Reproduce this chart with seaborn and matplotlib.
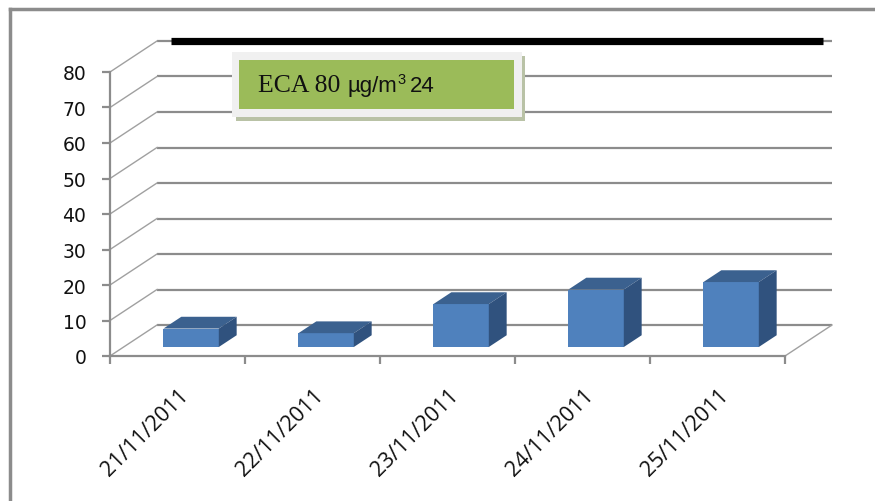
import numpy as np
import matplotlib
matplotlib.use('Agg')
import matplotlib.pyplot as plt
import seaborn as sns
from matplotlib.transforms import ScaledTranslation, IdentityTransform
from matplotlib.patches import Polygon, Rectangle
from matplotlib.lines import Line2D

# dane: PM10 dzienne (µg/m3) i norma ECA
dates = ['21/11/2011', '22/11/2011', '23/11/2011', '24/11/2011', '25/11/2011']
pm10 = [5.2, 3.9, 12.1, 16.2, 18.3]
eca_limit = 80
y_ticks = list(range(0, 81, 10))

W, H = 875, 502
fig = plt.figure(figsize=(W / 100, H / 100), dpi=100)
fig.patch.set_facecolor('white')
ax = fig.add_axes([110 / W, 1 - 357 / H, 675 / W, 284 / H])
ax.patch.set_visible(False)

grid_col = '#8c8c8c'
DX, DY = 47, 31      # glebokosc "3D" w pikselach
f0, f1 = 0.29, 0.67  # przod / tyl slupka


def depth(f):
    return ax.transData + ScaledTranslation(f * DX / 100, f * DY / 100, fig.dpi_scale_trans)


# slupki (przednia sciana) z seaborn
sns.barplot(x=dates, y=pm10, color='#4F81BD', saturation=1, width=0.41, ax=ax, zorder=3)
ax.set_xlim(-0.5, len(dates) - 0.5)
ax.set_ylim(0, 80)


def px(x, y, f):
    return depth(f).transform((x, y))


# tylna sciana - linie siatki
ax.hlines(y_ticks, -0.5, len(dates) - 0.5, transform=depth(1), color=grid_col,
          lw=1.6, zorder=1, clip_on=False)
# lewa sciana - ukosne linie
for v in y_ticks:
    p0, p1 = px(-0.5, v, 0), px(-0.5, v, 1)
    ax.add_line(Line2D([p0[0], p1[0]], [p0[1], p1[1]], transform=IdentityTransform(),
                       color='#a0a0a0', lw=1, zorder=1, clip_on=False))
# prawa krawedz podlogi
p0, p1 = px(len(dates) - 0.5, 0, 0), px(len(dates) - 0.5, 0, 1)
ax.add_line(Line2D([p0[0], p1[0]], [p0[1], p1[1]], transform=IdentityTransform(),
                   color='#a0a0a0', lw=1, zorder=1, clip_on=False))

# linia normy ECA na tylnej scianie
ax.plot([-0.4, len(dates) - 0.57], [eca_limit, eca_limit], transform=depth(1),
        color='black', lw=5.2, solid_capstyle='butt', zorder=2, clip_on=False)

# efekt 3D slupkow
for bar in ax.patches:
    bar.set_transform(depth(f0))
    bar.set_clip_on(False)
    x0, w, h = bar.get_x(), bar.get_width(), bar.get_height()
    top = [px(x0, h, f0), px(x0 + w, h, f0), px(x0 + w, h, f1), px(x0, h, f1)]
    side = [px(x0 + w, 0, f0), px(x0 + w, h, f0), px(x0 + w, h, f1), px(x0 + w, 0, f1)]
    ax.add_patch(Polygon(top, closed=True, transform=IdentityTransform(),
                         facecolor='#3B618F', edgecolor='none', zorder=3, clip_on=False))
    ax.add_patch(Polygon(side, closed=True, transform=IdentityTransform(),
                         facecolor='#30527E', edgecolor='none', zorder=3, clip_on=False))

# osie
for s in ['top', 'right']:
    ax.spines[s].set_visible(False)
for s in ['left', 'bottom']:
    ax.spines[s].set_color(grid_col)
    ax.spines[s].set_linewidth(1.6)
ax.set_yticks(y_ticks)
ax.tick_params(axis='y', length=6, width=1.6, color=grid_col, pad=11,
               labelsize=13.5, labelcolor='#111111')
ax.set_xticks(np.arange(-0.5, len(dates), 1))
ax.set_xticklabels([])
ax.tick_params(axis='x', length=6, width=1.6, color=grid_col)
ax.set_xlabel('')
ax.set_ylabel('')

lab_tr = ax.transData + ScaledTranslation(8 / 100, -36 / 100, fig.dpi_scale_trans)
for i, d in enumerate(dates):
    ax.text(i, 0, d, rotation=45, rotation_mode='anchor', ha='right', va='center',
            transform=lab_tr, fontsize=15.5, family='Open Sans', color='#111111')

# ramka obrazka
fig.add_artist(Line2D([10 / W, 10 / W], [0, 1 - 10 / H], color=grid_col, lw=2.5))
fig.add_artist(Line2D([10 / W, 1], [1 - 10 / H, 1 - 10 / H], color=grid_col, lw=2.5))


# legenda (pole tekstowe)
def rect(x0, y0, x1, y1, **kw):
    fig.add_artist(Rectangle((x0 / W, 1 - y1 / H), (x1 - x0) / W, (y1 - y0) / H,
                             transform=fig.transFigure, **kw))


rect(236, 57, 525, 122, facecolor='#b9c2a6', edgecolor='none', zorder=4)
rect(232, 53, 522, 118, facecolor='#f0f0f0', edgecolor='none', zorder=5)
rect(239, 61, 514, 110, facecolor='#9BBB59', edgecolor='none', zorder=5)

r = fig.canvas.get_renderer()
x = 258 / W
base = 1 - 92 / H
pieces = [('ECA 80', 'Liberation Serif', 18.5, 0, 7),
          ('µg/m', 'Liberation Sans', 16, 0, 0),
          ('3', 'Liberation Sans', 10.5, 8, 5),
          ('24', 'Liberation Sans', 16, 0, 0)]
for txt, fam, size, dy, gap in pieces:
    t = fig.text(x, base + dy / H, txt, family=fam, fontsize=size, va='baseline',
                 color='#111111', zorder=6)
    x = fig.transFigure.inverted().transform(t.get_window_extent(r))[1][0] + gap / W

fig.savefig('out.png', dpi=100)
